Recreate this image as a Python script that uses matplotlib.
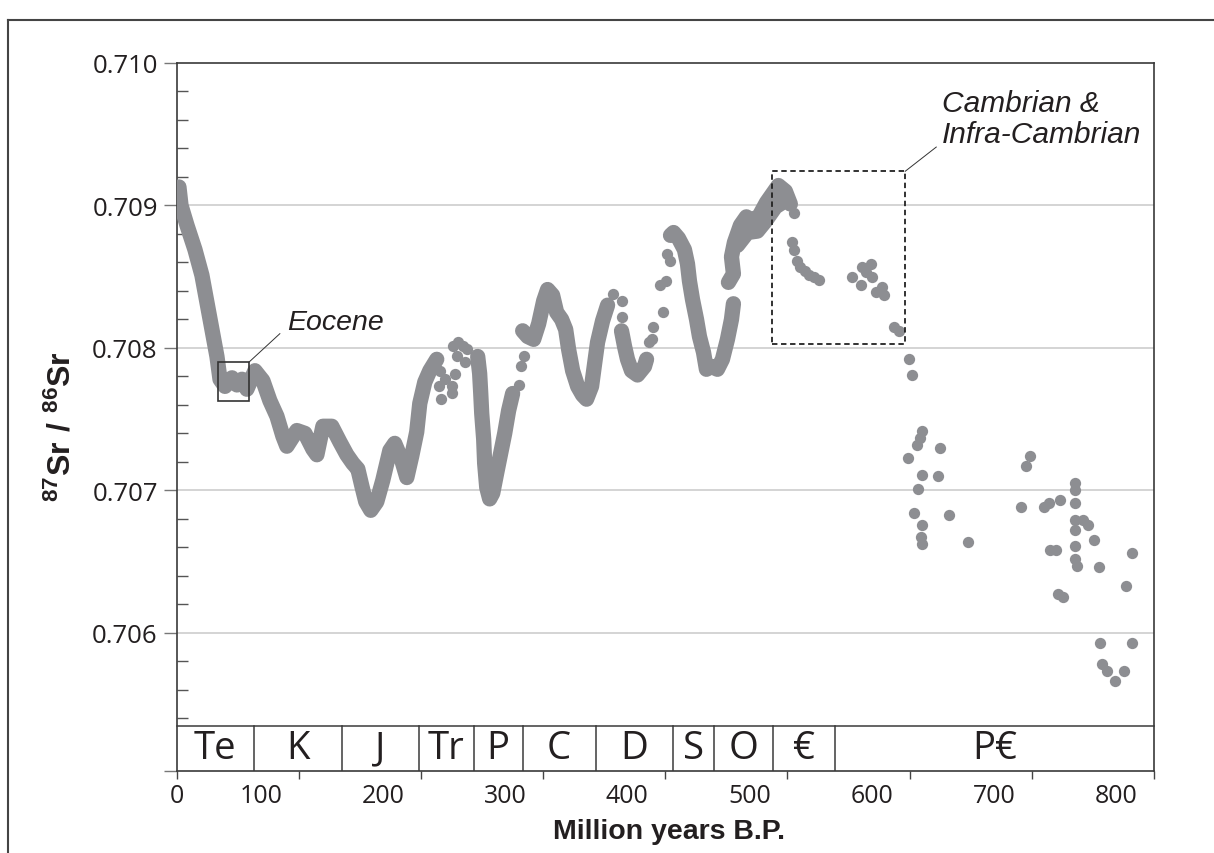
import matplotlib
matplotlib.use("Agg")
import matplotlib.pyplot as plt
from matplotlib.transforms import ScaledTranslation, blended_transform_factory
from matplotlib.patches import Rectangle
from matplotlib.lines import Line2D
from matplotlib.ticker import FixedLocator

plt.rcParams['mathtext.fontset'] = 'custom'
plt.rcParams['mathtext.rm'] = 'Liberation Sans'
plt.rcParams['mathtext.bf'] = 'Liberation Sans:bold'
plt.rcParams['font.family'] = ['Open Sans', 'DejaVu Sans']

# ---------------- data (age in Ma, 87Sr/86Sr) ----------------
# dense continuous curve: Cenozoic -> Triassic
seg1_age = [2.0, 3.7, 8.6, 15.1, 20.8, 24.9, 29.0, 33.1, 35.6, 39.7, 45.4, 49.5, 53.6, 57.6,
            64.2, 70.7, 76.4, 82.2, 87.1, 90.3, 98.5, 105.1, 111.6, 114.9, 119.8, 127.1,
            133.7, 139.4, 144.3, 148.4, 151.7, 154.9, 159.0, 163.9, 168.8, 174.6, 178.6,
            184.4, 188.5, 192.5, 196.6, 199.1, 203.2, 207.3, 213.0]
seg1_sr = [0.70913, 0.70900, 0.70886, 0.70869, 0.70851, 0.70832, 0.70813, 0.70794, 0.70778,
           0.70773, 0.70779, 0.70774, 0.70778, 0.70771, 0.70784, 0.70777, 0.70763, 0.70752,
           0.70738, 0.70731, 0.70742, 0.70740, 0.70729, 0.70725, 0.70745, 0.70745, 0.70734,
           0.70725, 0.70719, 0.70715, 0.70703, 0.70692, 0.70686, 0.70692, 0.70707, 0.70728,
           0.70733, 0.70721, 0.70709, 0.70724, 0.70741, 0.70761, 0.70776, 0.70784, 0.70792]
# Permian
seg2_age = [246.5, 248.1, 249.0, 249.8, 251.4, 252.2, 253.9, 256.3, 258.8, 262.0, 265.3,
            268.6, 271.8, 275.1]
seg2_sr = [0.70794, 0.70782, 0.70768, 0.70754, 0.70736, 0.70719, 0.70702, 0.70694, 0.70698,
           0.70712, 0.70726, 0.70740, 0.70756, 0.70768]
# Carboniferous
seg3_age = [283.3, 287.4, 292.3, 296.4, 300.5, 303.7, 307.8, 311.1, 315.2, 318.5, 320.9,
            324.2, 328.3, 332.3, 335.6, 339.7, 342.2, 344.6, 348.7, 352.8]
seg3_sr = [0.70812, 0.70808, 0.70806, 0.70817, 0.70833, 0.70841, 0.70837, 0.70825, 0.70820,
           0.70813, 0.70799, 0.70784, 0.70773, 0.70767, 0.70764, 0.70773, 0.70789, 0.70804,
           0.70819, 0.70830]
# Devonian
seg4_age = [364.2, 366.7, 369.1, 372.4, 377.3, 383.0, 384.7]
seg4_sr = [0.70812, 0.70801, 0.70792, 0.70784, 0.70781, 0.70787, 0.70792]
# Devonian - Silurian
seg5_age = [404.3, 406.8, 410.8, 415.7, 418.2, 419.8, 422.3, 425.6, 428.0, 431.3, 433.7,
            437.8, 442.7, 446.8, 450.9, 454.2, 455.8]
seg5_sr = [0.70879, 0.70881, 0.70877, 0.70869, 0.70859, 0.70847, 0.70834, 0.70820, 0.70808,
           0.70797, 0.70785, 0.70787, 0.70785, 0.70792, 0.70806, 0.70820, 0.70831]
# Ordovician (upper and lower edge of the broad band)
seg6_age = [451.7, 455.8, 454.2, 456.6, 461.5, 466.4, 471.3, 477.1, 482.8, 487.7, 492.6,
            498.3, 502.4]
seg6_sr = [0.70846, 0.70852, 0.70864, 0.70874, 0.70886, 0.70892, 0.70889, 0.70893, 0.70902,
           0.70908, 0.70914, 0.70910, 0.70901]
seg7_age = [459.1, 467.3, 475.4, 482.0, 490.2, 497.5]
seg7_sr = [0.70872, 0.70881, 0.70882, 0.70889, 0.70899, 0.70903]

# isolated samples
dots_age = [215.4, 214.6, 216.3, 219.5, 225.2, 225.2, 226.1, 230.2, 234.2, 237.5, 229.3, 235.9,
            227.7,
            280.0, 281.7, 284.1,
            356.9, 364.2, 364.2,
            388.8, 387.1, 389.6, 397.8, 395.3, 401.0, 401.8, 403.5,
            505.7, 504.0, 505.7, 508.1, 510.6, 514.7, 517.9, 522.0, 526.1, 553.1, 560.5, 561.3,
            564.5, 568.6, 569.5, 572.7, 577.6, 579.3, 587.4, 591.5,
            599.7, 602.2, 610.3, 608.7, 606.2, 625.0, 598.9, 610.3, 623.4, 607.1, 603.8, 632.4,
            610.3, 609.5, 610.3, 647.9, 698.6, 695.4, 691.3, 710.1, 714.2, 723.2, 735.4, 735.4,
            735.4, 735.4, 742.0, 746.1, 735.4, 751.0, 735.4, 715.0, 719.9, 735.4, 737.1, 755.0,
            782.0, 777.1, 721.5, 725.6, 755.9, 782.0, 757.5, 761.6, 775.5, 768.1]
dots_sr = [0.70784, 0.70773, 0.70764, 0.70778, 0.70773, 0.70768, 0.70801, 0.70804, 0.70801,
           0.70799, 0.70794, 0.70790, 0.70782,
           0.70774, 0.70787, 0.70794,
           0.70838, 0.70833, 0.70822,
           0.70806, 0.70804, 0.70815, 0.70825, 0.70844, 0.70847, 0.70866, 0.70861,
           0.70895, 0.70874, 0.70869, 0.70861, 0.70857, 0.70854, 0.70851, 0.70850, 0.70848,
           0.70850, 0.70844, 0.70857, 0.70853, 0.70859, 0.70850, 0.70839, 0.70843, 0.70837,
           0.70815, 0.70812,
           0.70792, 0.70781, 0.70742, 0.70737, 0.70732, 0.70730, 0.70723, 0.70711, 0.70710,
           0.70701, 0.70684, 0.70683, 0.70676, 0.70667, 0.70662, 0.70664, 0.70724, 0.70717,
           0.70688, 0.70688, 0.70691, 0.70693, 0.70705, 0.70700, 0.70691, 0.70679, 0.70679,
           0.70676, 0.70672, 0.70665, 0.70661, 0.70658, 0.70658, 0.70652, 0.70647, 0.70646,
           0.70656, 0.70633, 0.70627, 0.70625, 0.70593, 0.70593, 0.70578, 0.70573, 0.70573,
           0.70566]

# geological periods (boundaries in Ma) and labels
period_bounds = [0, 63.4, 135.3, 198.3, 243.2, 283.3, 343.0, 406.3, 439.5, 488.5, 539.2, 800]
period_labels = ['Te', 'K', 'J', 'Tr', 'P', 'C', 'D', 'S', 'O', '\u20ac', 'P\u20ac']

x_ticks = [0, 100, 200, 300, 400, 500, 600, 700, 800]
x_ticklabels = ['0', '100', '200', '300', '400', '500', '600', '700', '800']
y_ticks = [0.706, 0.707, 0.708, 0.709, 0.710]
y_ticklabels = ['0.706', '0.707', '0.708', '0.709', '0.710']

eocene_box = (33.9, 59.3, 0.70763, 0.70790)
cambrian_box = (487.7, 596.4, 0.70803, 0.70924)

# ---------------- figure ----------------
W, H = 1214, 854
fig = plt.figure(figsize=(W / 100, H / 100), dpi=100)
ax = fig.add_axes([176.5 / W, 1 - 772 / H, (1154 - 176.5) / W, (772 - 64) / H])
ax.set_xlim(0, 800)
ax.set_ylim(0.70503, 0.710)

dot_color = '#8d8e92'
lw_band = 11
for xs, ys in [(seg1_age, seg1_sr), (seg2_age, seg2_sr), (seg3_age, seg3_sr),
               (seg4_age, seg4_sr), (seg5_age, seg5_sr), (seg6_age, seg6_sr),
               (seg7_age, seg7_sr)]:
    ax.plot(xs, ys, color=dot_color, lw=lw_band, solid_capstyle='round',
            solid_joinstyle='round', zorder=3)
ax.scatter(dots_age, dots_sr, s=66, color=dot_color, linewidths=0, zorder=3)

# grid
ax.set_axisbelow(True)
ax.yaxis.set_major_locator(FixedLocator([0.70503] + y_ticks))
ax.set_yticklabels([''] + y_ticklabels)
ax.yaxis.set_minor_locator(FixedLocator([0.7054 + 0.0002 * i for i in range(23) if i % 5 != 3]))
for yv in y_ticks[:-1]:
    ax.axhline(yv, color='#c9c9c9', lw=1.1, zorder=1)

ax.tick_params(axis='y', which='major', direction='out', length=9.5, width=1.0,
               color='#777777', labelsize=18.5, pad=4, labelcolor='#231f20')
ax.tick_params(axis='y', which='minor', direction='in', length=8, width=1.0, color='#555555')

ax.set_xticks(x_ticks)
ax.set_xticklabels(x_ticklabels)
ax.tick_params(axis='x', which='major', direction='out', length=6, width=1.0,
               color='#444444', labelsize=18, pad=3, labelcolor='#231f20')
offset = ScaledTranslation(-0.38, 0, fig.dpi_scale_trans)
for lab in ax.get_xticklabels()[1:]:
    lab.set_transform(lab.get_transform() + offset)

for sp in ax.spines.values():
    sp.set_color('#3a3a3a')
    sp.set_linewidth(1.2)

# period band
band_h = 0.0636
btr = blended_transform_factory(ax.transData, ax.transAxes)
ax.plot([0, 800], [band_h, band_h], transform=btr, color='#3a3a3a', lw=1.1, zorder=4,
        clip_on=False)
for b in period_bounds[1:-1]:
    ax.plot([b, b], [0, band_h], transform=btr, color='#3a3a3a', lw=1.1, zorder=4)
for i, lab in enumerate(period_labels):
    xm = (period_bounds[i] + period_bounds[i + 1]) / 2
    ax.text(xm, band_h / 2, lab, transform=btr, ha='center', va='center', fontsize=27.5,
            color='#231f20', zorder=5)

# annotations
x0, x1, y0, y1 = eocene_box
ax.add_patch(Rectangle((x0, y0), x1 - x0, y1 - y0, fill=False, ec='#333333', lw=1.2, zorder=6))
ax.plot([x1, 84.6], [y1, 0.70810], color='#333333', lw=0.7, zorder=6)
ax.text(90.3, 0.70818, 'Eocene', fontsize=20.5, style='italic', family='Liberation Sans',
        ha='left', va='center', color='#231f20')

x0, x1, y0, y1 = cambrian_box
ax.add_patch(Rectangle((x0, y0), x1 - x0, y1 - y0, fill=False, ec='#222222', lw=1.3,
                       ls=(0, (3, 2)), zorder=6))
ax.plot([x1, 621.8], [y1, 0.70941], color='#333333', lw=0.7, zorder=6)
ax.text(626.7, 0.70961, 'Cambrian &\nInfra-Cambrian', fontsize=21.5, style='italic',
        family='Liberation Sans', ha='left', va='center', linespacing=1.1, color='#231f20')

# axis labels
fig.text(669 / W, 1 - 832 / H, 'Million years B.P.', fontsize=20.5, weight='bold',
         family='Liberation Sans', ha='center', va='center', color='#231f20')
fig.text(62 / W, 1 - 427 / H, r'$\mathbf{^{87}Sr\ /\ ^{86}Sr}$', fontsize=23, rotation=90,
         ha='center', va='center', color='#231f20')

# outer frame of the figure panel
fig.add_artist(Line2D([8 / W, 8 / W], [0, 1 - 21 / H], transform=fig.transFigure,
                      color='#444444', lw=1.5))
fig.add_artist(Line2D([8 / W, 1], [1 - 21 / H, 1 - 21 / H], transform=fig.transFigure,
                      color='#444444', lw=1.5))

fig.savefig('out.png', dpi=100)
